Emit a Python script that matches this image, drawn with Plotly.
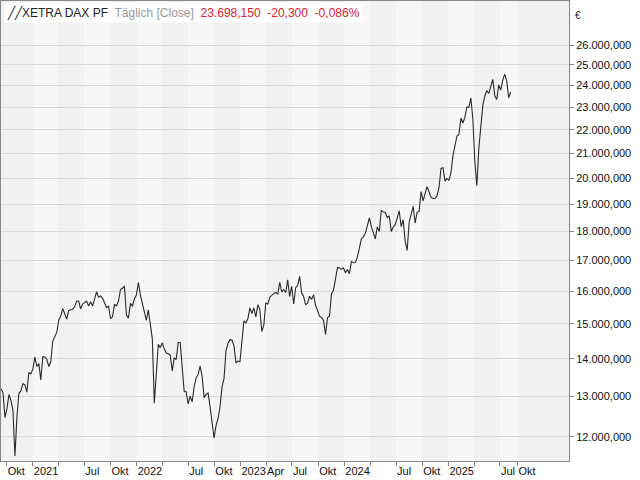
import plotly.graph_objects as go
import pandas as pd
import numpy as np

vals = [
13200, 13100, 12470,
12690, 13050, 12900, 12650, 11560,
12480, 13080, 13140, 13330,
13300, 13110, 13630, 13590,
13720, 14050, 13790, 13870, 13430,
14060, 14050, 13990, 13790,
13920, 14500, 14620, 14750,
15110, 15230, 15460, 15280, 15140,
15400, 15420, 15440, 15520,
15690, 15690, 15450, 15600,
15650, 15690, 15540, 15670, 15540,
15760, 15980, 15810, 15850,
15780, 15610, 15490, 15530,
15160, 15210, 15590, 15540, 15690,
16050, 16090, 16160, 15260,
15170, 15620, 15530, 15760, 15880,
16270, 15880, 15600, 15320,
15100, 15420, 15040, 14570,
12830, 13630, 14410, 14310,
14450, 14280, 14160, 14140, 14100,
13670, 14030, 13980, 14460,
14460, 13760, 13130, 13120,
12810, 13010, 12860, 13250, 13480,
13570, 13800, 13540, 12970,
13050, 13090, 12740, 12280, 11980,
12270, 12440, 12730, 13240,
13460, 14220, 14430, 14540,
14530, 14370, 13890, 13940, 13920,
14610, 15090, 15030, 15150,
15480, 15310, 15480, 15210,
15580, 15430, 14770, 14960, 15630,
15600, 15810, 15880, 15920,
15960, 15910, 16280, 15980,
16050, 15950, 16360, 15830, 16150,
15600, 16110, 16180, 16470,
15950, 15830, 15570, 15630,
15840, 15740, 15890, 15560, 15390,
15230, 15190, 15100, 14690,
15190, 15230, 15920, 16030,
16400, 16760, 16750, 16710, 16750,
16590, 16700, 16560, 16960,
16920, 16930, 17120, 17420,
17740, 17810, 17940, 18200, 18490,
18180, 17930, 17740, 18160,
18000, 18770, 18700, 18690, 18500,
18560, 18000, 18160, 18240,
18480, 18750, 18170, 18420,
17660, 17340, 18320, 18630, 18910,
18300, 18700, 18720, 19470,
19120, 19370, 19660, 19460,
19250, 19210, 19210, 19320, 19630,
20380, 20410, 19880, 19980,
19910, 20210, 20900, 21390, 21730,
21790, 22510, 22290, 22550,
23010, 22990, 23420, 22460,
20640, 19700, 21210, 22240,
23090, 23500, 23770, 23630, 24000,
24300, 23520, 23350, 24030,
23790, 24250, 24550, 24220,
23430, 23698,
]
dates = pd.date_range("2020-09-11", periods=len(vals), freq="W-FRI")

ytick_vals = list(range(12000, 27000, 1000))
ytick_text = [f"{v:,}".replace(",", ".") + ",000" for v in ytick_vals]

xtick_dates = ["2020-10-01", "2021-01-01", "2021-04-01", "2021-07-01", "2021-10-01",
               "2022-01-01", "2022-04-01", "2022-07-01", "2022-10-01",
               "2023-01-01", "2023-04-01", "2023-07-01", "2023-10-01",
               "2024-01-01", "2024-04-01", "2024-07-01", "2024-10-01",
               "2025-01-01", "2025-04-01", "2025-07-01", "2025-09-01"]
xtick_text = ["Okt", "2021", "", "Jul", "Okt", "2022", "", "Jul", "Okt",
              "2023", "Apr", "Jul", "Okt", "2024", "", "Jul", "Okt",
              "2025", "", "Jul", "Okt"]

band_edges = ["2020-09-01", "2021-01-01", "2021-04-01", "2021-07-01", "2021-10-01",
              "2022-01-01", "2022-04-01", "2022-07-01", "2022-10-01",
              "2023-01-01", "2023-04-01", "2023-07-01", "2023-10-01",
              "2024-01-01", "2024-04-01", "2024-07-01", "2024-10-01",
              "2025-01-01", "2025-04-01", "2025-07-01", "2025-09-01", "2026-04-01"]

shapes = []
for i in range(len(band_edges) - 1):
    shapes.append(dict(type="rect", xref="x", yref="paper", x0=band_edges[i], x1=band_edges[i + 1],
                       y0=0, y1=1, fillcolor="#f1f1f1" if i % 2 == 0 else "#f7f7f7",
                       line_width=0, layer="below"))

fig = go.Figure(go.Scatter(x=dates, y=vals, mode="lines", line=dict(color="#2a2a2a", width=1.1),
                           hoverinfo="skip"))

fig.update_layout(
    width=640, height=480, paper_bgcolor="white", plot_bgcolor="#f7f7f7",
    margin=dict(l=1, r=71, t=1, b=19), showlegend=False, shapes=shapes,
    font=dict(family="Liberation Sans", size=11, color="#222"),
    xaxis=dict(type="date", range=["2020-09-11", "2026-03-01"], tickvals=xtick_dates, ticktext=xtick_text,
               showgrid=False, ticks="outside", ticklen=4, tickcolor="#888", showline=True,
               linecolor="#888", mirror=True, zeroline=False, ticklabelposition="outside right",
               tickangle=0, automargin=False,
               tickfont=dict(size=11, family="Liberation Sans", color="#111")),
    yaxis=dict(type="log", side="right", range=[np.log10(11445), np.log10(28357)],
               tickvals=ytick_vals, ticktext=ytick_text, showgrid=True, gridcolor="#d8d8d8",
               ticks="outside", ticklen=4, tickcolor="#888", showline=True, linecolor="#888",
               mirror=True, zeroline=False, automargin=False,
               tickfont=dict(size=11, family="Liberation Sans", color="#111")),
)
fig.add_annotation(xref="paper", yref="paper", x=0.005, y=0.998, xanchor="left", yanchor="top",
                   showarrow=False, bgcolor="white", borderpad=2,
                   text="<span style='color:#222'>\u2571\u2571XETRA DAX PF</span>  <span style='color:#999'>Täglich [Close]</span>  <span style='color:#e0202a'>23.698,150  -20,300  -0,086%</span>",
                   font=dict(size=12, family="Liberation Sans"))
fig.add_annotation(xref="paper", yref="paper", x=1.0, y=0.985, xanchor="left", yanchor="top",
                   xshift=4, showarrow=False, text="€", font=dict(size=10, color="#222"))
fig.write_html("out.html", config={"displayModeBar": False},
               post_script="document.body.style.margin='0';document.body.style.overflow='hidden';")
